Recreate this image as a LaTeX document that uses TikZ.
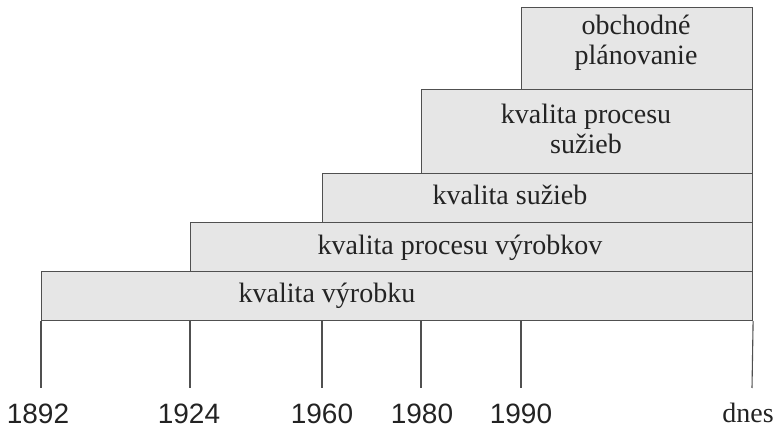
\documentclass[tikz,border=0pt]{standalone}
\usepackage{fontspec}
\setmainfont{Liberation Serif}
\newfontfamily\yearfont{Liberation Sans}
\usepackage{xcolor}
\usepackage{tikz}
\usetikzlibrary{positioning,calc}
\definecolor{bandgray}{RGB}{230,230,230}
\definecolor{linegray}{RGB}{80,80,80}
\definecolor{textgray}{RGB}{35,35,35}
\newcommand{\bigtext}{\fontsize{28}{30}\selectfont}

\begin{document}
\begin{tikzpicture}[
      x=1pt, y=1pt,
      band/.style={draw=linegray, line width=1.1pt, fill=bandgray, anchor=south west, inner sep=0pt},
      lbl/.style={font=\bigtext, text=textgray, align=center, anchor=base, inner sep=0pt},
      year/.style={font=\yearfont\bigtext, text=textgray, anchor=base, inner sep=0pt, text depth=0pt},
      tick/.style={draw=linegray, line width=1.1pt}
    ]
      \useasboundingbox (0,0) rectangle (776,430);
      % stacked bands
      \node[band, minimum width=711pt, minimum height=49pt] (vyrobku) at (41,109) {};
      \node[band, minimum width=562pt, minimum height=49pt] (procvyr) at (190,158) {};
      \node[band, minimum width=430pt, minimum height=49pt] (sluzieb) at (322,207) {};
      \node[band, minimum width=331pt, minimum height=84pt] (procsluz) at (421,256) {};
      \node[band, minimum width=231pt, minimum height=82pt] (obchod) at (521,340) {};
      % band texts
      \node[lbl] (t-vyrobku) at (327,127) {kvalita výrobku};
      \node[lbl] (t-procvyr) at (460,175) {kvalita procesu výrobkov};
      \node[lbl] (t-sluzieb) at (510,225) {kvalita sužieb};
      \node[lbl] (t-procsluz) at (586,276) {kvalita procesu\\sužieb};
      \node[lbl] (t-obchod) at (636,365) {obchodné\\plánovanie};
      % time axis
      \coordinate (e1892) at (41,42);
      \coordinate (e1924) at (190,42);
      \coordinate (e1960) at (322,42);
      \coordinate (e1980) at (421,42);
      \coordinate (e1990) at (521,42);
      \coordinate (ednes) at (752,42);
      \draw[tick] (vyrobku.south west) -- (e1892);
      \draw[tick] (e1924 |- vyrobku.south) -- (e1924);
      \draw[tick] (e1960 |- vyrobku.south) -- (e1960);
      \draw[tick] (e1980 |- vyrobku.south) -- (e1980);
      \draw[tick] (e1990 |- vyrobku.south) -- (e1990);
      \draw[tick] (vyrobku.south east) -- (ednes);
      \node[year] (y1892) at (38,6) {1892};
      \node[year] (y1924) at (189,6) {1924};
      \node[year] (y1960) at (322,6) {1960};
      \node[year] (y1980) at (422,6) {1980};
      \node[year] (y1990) at (521,6) {1990};
      \node[lbl, text depth=0pt] (ydnes) at (748,7) {dnes};
    \end{tikzpicture}
\end{document}
